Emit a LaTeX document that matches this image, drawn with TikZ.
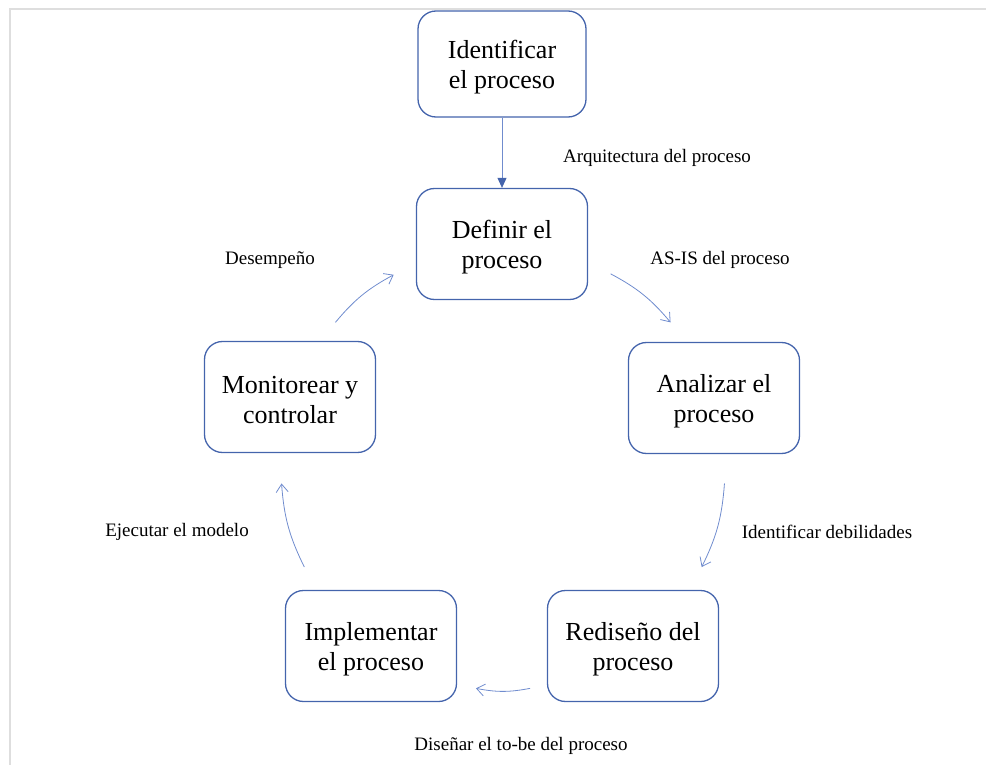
\documentclass[tikz,border=0pt]{standalone}
\usepackage{fontspec}
\setmainfont{Liberation Serif}
\usetikzlibrary{arrows.meta,calc}
\definecolor{boxblue}{RGB}{68,100,172}
\definecolor{arrblue}{RGB}{112,140,206}
\definecolor{framegray}{RGB}{222,222,222}
\newcommand{\stagestrut}{\rule{0pt}{24pt}}
\tikzset{
  stage/.style={draw=boxblue, line width=1.3pt, rounded corners=18pt, align=center,
    minimum width=171pt, minimum height=111pt, inner sep=0pt,
    font=\fontsize{26}{30}\selectfont},
  flowlbl/.style={font=\fontsize{19}{22}\selectfont, inner sep=0pt},
  cyc/.style={draw=arrblue, line width=0.8pt, -{Straight Barb[length=8pt,width=12pt]}, bend left=11},
}

\begin{document}
\begin{tikzpicture}[x=1pt,y=1pt]
\useasboundingbox (0,0) rectangle (986,-765);
% page frame
\draw[framegray, line width=1.5pt] (10,-765) -- (10,-9) -- (986,-9);

\node[stage, minimum width=168pt, minimum height=106pt] (iden) at (502,-64) {\stagestrut Identificar\\el proceso};
\node[stage] (def) at (502,-244) {\stagestrut Definir el\\proceso};
\node[stage] (ana) at (714,-398) {\stagestrut Analizar el\\proceso};
\node[stage] (red) at (633,-646) {\stagestrut Rediseño del\\proceso};
\node[stage] (imp) at (371,-646) {\stagestrut Implementar\\el proceso};
\node[stage] (mon) at (290,-397) {\stagestrut Monitorear y\\controlar};

\node[flowlbl] (arq) at (657,-158) {Arquitectura del proceso};
\node[flowlbl] (asis) at (720,-260) {AS-IS del proceso};
\node[flowlbl] (debil) at (827,-532) {Identificar debilidades};
\node[flowlbl] (disen) at (521,-746) {Diseñar el to-be del proceso};
\node[flowlbl] (ejec) at (177,-532) {Ejecutar el modelo};
\node[flowlbl] (desem) at (270,-260) {Desempeño};

% cycle arrows sit on a circle round (c)
\coordinate (c) at (503,-468);
\coordinate (s1) at ($(c)+(61:222)$);
\coordinate (e1) at ($(c)+(41:222)$);
\coordinate (s2) at ($(c)+(-4:222)$);
\coordinate (e2) at ($(c)+(-26.5:222)$);
\coordinate (s3) at ($(c)+(-83:222)$);
\coordinate (e3) at ($(c)+(-97:222)$);
\coordinate (s4) at ($(c)+(-153.5:222)$);
\coordinate (e4) at ($(c)+(-176:222)$);
\coordinate (s5) at ($(c)+(139:222)$);
\coordinate (e5) at ($(c)+(119.5:222)$);

\draw[draw=arrblue, line width=0.8pt, -{Triangle[length=10pt,width=9pt,color=boxblue]}] (iden) -- (def);
\draw[cyc] (s1) to (e1);
\draw[cyc] (s2) to (e2);
\draw[cyc] (s3) to (e3);
\draw[cyc] (s4) to (e4);
\draw[cyc] (s5) to (e5);
\end{tikzpicture}
\end{document}
